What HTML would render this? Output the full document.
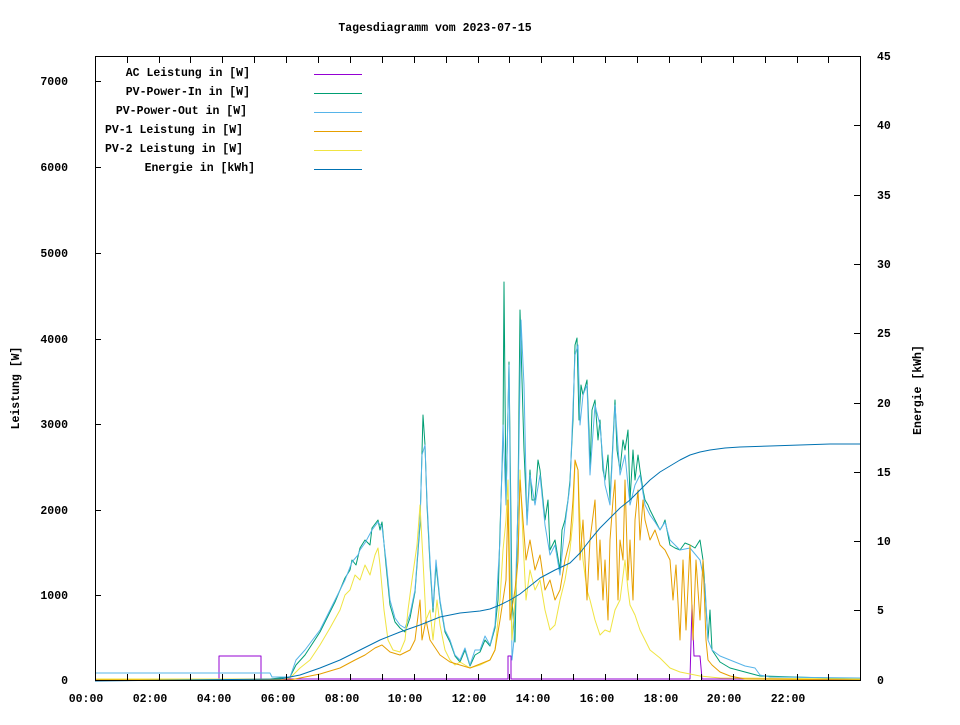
<!DOCTYPE html>
<html><head><meta charset="utf-8"><style>
body{margin:0;background:#fff}
svg text{font-family:"Liberation Mono",monospace;font-size:11.5px;font-weight:bold;fill:#000}
</style></head><body>
<svg width="960" height="720" viewBox="0 0 960 720" xmlns="http://www.w3.org/2000/svg">
<rect width="960" height="720" fill="#fff"/>
<text x="435" y="31" text-anchor="middle">Tagesdiagramm vom 2023-07-15</text>
<g fill="none" stroke-width="1" stroke-linejoin="round">
<path stroke="#9400d3" d="M95,679 L219,679 L219,656 L261,656 L261,679 L508,679 L508,656 L511,656 L511,679 L690,679 L692,605 L694,656 L700,656 L702,679 L860,679"/>
<path stroke="#009e73" d="M95,679 L270,679 L290,677 L296,665 L305,655 L320,632 L335,602 L345,578 L350,570 L352,560 L356,565 L360,548 L365,540 L370,545 L372,528 L378,520 L380,530 L382,522 L386,565 L390,605 L395,622 L400,628 L405,632 L410,618 L415,592 L420,525 L423,415 L425,445 L427,505 L430,565 L433,612 L436,565 L440,602 L445,632 L450,642 L455,656 L460,662 L465,650 L470,666 L475,655 L480,652 L485,640 L490,646 L495,628 L498,600 L500,530 L503,440 L504,282 L506,500 L508,410 L509,362 L511,520 L512,600 L515,642 L518,500 L520,310 L522,380 L524,450 L527,520 L530,470 L532,500 L535,500 L538,460 L540,470 L545,520 L548,500 L550,550 L555,540 L560,570 L562,530 L565,520 L568,500 L570,480 L573,420 L575,345 L577,338 L579,420 L581,385 L583,395 L587,380 L589,430 L590,470 L592,410 L595,400 L598,440 L600,420 L603,470 L605,480 L608,455 L610,500 L613,440 L615,400 L617,450 L620,470 L623,440 L625,450 L628,430 L630,500 L633,450 L635,480 L638,455 L640,470 L643,490 L645,500 L648,505 L650,510 L655,520 L660,530 L663,525 L665,520 L670,545 L675,548 L680,550 L685,543 L690,545 L695,548 L700,540 L703,560 L705,590 L708,640 L710,610 L712,650 L720,662 L730,668 L745,672 L760,676 L860,679"/>
<path stroke="#56b4e9" d="M95,673 L270,673 L272,677 L290,677 L296,660 L305,650 L320,630 L335,600 L345,580 L352,562 L358,555 L360,550 L365,543 L372,530 L378,522 L382,527 L386,560 L390,600 L395,618 L400,625 L405,628 L410,614 L415,590 L420,520 L422,455 L425,445 L427,500 L430,560 L433,608 L436,560 L440,600 L445,630 L450,640 L455,655 L460,660 L465,648 L470,665 L475,650 L480,650 L485,636 L490,645 L495,625 L500,540 L503,425 L506,505 L509,365 L511,560 L512,660 L514,640 L518,505 L521,320 L524,385 L527,525 L530,475 L535,505 L540,475 L545,525 L550,555 L555,545 L560,575 L565,525 L570,485 L575,355 L578,345 L580,425 L583,395 L587,385 L590,475 L595,405 L600,425 L605,485 L610,505 L615,405 L620,475 L625,455 L630,505 L635,485 L640,475 L645,505 L650,515 L655,522 L660,530 L665,522 L670,540 L675,545 L680,550 L690,548 L700,560 L705,585 L708,640 L712,650 L720,656 L730,660 L745,666 L755,668 L760,675 L770,677 L860,678"/>
<path stroke="#f0e442" d="M95,679 L280,679 L290,678 L300,668 L310,660 L320,645 L330,628 L340,610 L345,595 L350,590 L355,575 L360,580 L365,565 L370,575 L375,555 L378,548 L380,565 L384,610 L388,640 L393,650 L400,652 L405,640 L408,610 L412,580 L417,545 L420,505 L423,560 L426,620 L430,610 L433,640 L437,600 L440,625 L445,650 L450,660 L455,665 L460,662 L470,668 L480,665 L490,660 L495,650 L500,600 L503,550 L506,520 L508,480 L510,580 L512,640 L515,600 L518,560 L520,470 L523,540 L526,600 L530,570 L535,590 L540,580 L545,610 L550,630 L555,625 L560,600 L565,580 L570,550 L573,520 L575,462 L578,470 L580,520 L583,560 L587,590 L590,600 L595,620 L600,635 L605,630 L610,632 L615,610 L620,600 L625,560 L628,590 L630,605 L635,615 L640,630 L645,640 L650,650 L660,658 L670,668 L680,672 L690,674 L700,676 L720,678 L860,679"/>
<path stroke="#e69f00" d="M95,680 L290,680 L300,678 L320,674 L340,668 L355,660 L365,655 L375,648 L382,645 L390,652 L400,655 L410,650 L415,640 L420,600 L422,640 L426,620 L430,640 L440,655 L450,662 L460,665 L470,668 L480,664 L490,660 L495,650 L500,620 L503,600 L506,580 L508,500 L510,620 L515,590 L518,560 L520,480 L523,520 L526,560 L530,540 L535,570 L540,555 L545,590 L550,580 L555,600 L560,590 L565,560 L570,540 L573,500 L575,460 L578,470 L580,560 L583,520 L587,600 L590,540 L595,500 L598,580 L600,540 L603,600 L605,560 L608,620 L610,540 L613,500 L615,480 L618,600 L620,540 L623,560 L625,480 L628,580 L630,540 L633,600 L635,520 L638,490 L640,540 L643,500 L645,520 L650,540 L655,530 L660,545 L665,550 L670,560 L673,600 L676,565 L680,640 L683,560 L686,630 L690,545 L693,640 L696,560 L700,620 L703,560 L706,640 L708,660 L712,665 L720,672 L730,676 L745,679 L860,680"/>
<path stroke="#0072b2" d="M95,681 L280,679 L290,677 L300,675 L320,668 L340,660 L360,650 L380,640 L400,632 L420,625 L440,617 L460,613 L480,611 L490,609 L500,605 L510,600 L520,594 L530,586 L540,578 L555,570 L570,563 L580,553 L590,540 L600,528 L610,518 L620,508 L630,500 L640,490 L650,480 L660,472 L670,466 L680,460 L690,455 L700,452 L710,450 L725,448 L740,447 L770,446 L800,445 L830,444 L860,444"/>
</g>
<rect x="95.5" y="56.5" width="765" height="624" fill="none" stroke="#000" stroke-width="1"/>
<path stroke="#000" stroke-width="1" fill="none" d="M127.5 680V674M159.5 680V674M190.5 680V674M222.5 680V674M254.5 680V674M286.5 680V674M318.5 680V674M350.5 680V674M382.5 680V674M414.5 680V674M446.5 680V674M478.5 680V674M509.5 680V674M541.5 680V674M573.5 680V674M605.5 680V674M637.5 680V674M669.5 680V674M701.5 680V674M733.5 680V674M765.5 680V674M797.5 680V674M828.5 680V674M127.5 57V63M159.5 57V63M190.5 57V63M222.5 57V63M254.5 57V63M286.5 57V63M318.5 57V63M350.5 57V63M382.5 57V63M414.5 57V63M446.5 57V63M478.5 57V63M509.5 57V63M541.5 57V63M573.5 57V63M605.5 57V63M637.5 57V63M669.5 57V63M701.5 57V63M733.5 57V63M765.5 57V63M797.5 57V63M828.5 57V63M95 595.5H101M95 510.5H101M95 424.5H101M95 339.5H101M95 253.5H101M95 167.5H101M95 81.5H101M860 610.5H854M860 541.5H854M860 472.5H854M860 403.5H854M860 333.5H854M860 264.5H854M860 195.5H854M860 125.5H854"/>
<g text-anchor="end">
<text x="68" y="684">0</text><text x="68" y="599">1000</text><text x="68" y="514">2000</text><text x="68" y="428">3000</text><text x="68" y="343">4000</text><text x="68" y="257">5000</text><text x="68" y="171">6000</text><text x="68" y="85">7000</text>
</g>
<g text-anchor="start">
<text x="877" y="684">0</text><text x="877" y="614">5</text><text x="877" y="545">10</text><text x="877" y="476">15</text><text x="877" y="407">20</text><text x="877" y="337">25</text><text x="877" y="268">30</text><text x="877" y="199">35</text><text x="877" y="129">40</text><text x="877" y="60">45</text>
</g>
<g text-anchor="middle">
<text x="86" y="702">00:00</text><text x="150" y="702">02:00</text><text x="214" y="702">04:00</text><text x="278" y="702">06:00</text><text x="342" y="702">08:00</text><text x="405" y="702">10:00</text><text x="469" y="702">12:00</text><text x="533" y="702">14:00</text><text x="597" y="702">16:00</text><text x="661" y="702">18:00</text><text x="724" y="702">20:00</text><text x="788" y="702">22:00</text>
</g>
<text transform="translate(19,388) rotate(-90)" text-anchor="middle">Leistung [W]</text>
<text transform="translate(921,390) rotate(-90)" text-anchor="middle">Energie [kWh]</text>
<g text-anchor="end">
<text x="250" y="76">AC Leistung in [W]</text>
<text x="250" y="95">PV-Power-In in [W]</text>
<text x="247" y="114">PV-Power-Out in [W]</text>
<text x="243" y="133">PV-1 Leistung in [W]</text>
<text x="243" y="152">PV-2 Leistung in [W]</text>
<text x="255" y="171">Energie in [kWh]</text>
</g>
<g stroke-width="1">
<line x1="314" x2="362" y1="74.5" y2="74.5" stroke="#9400d3"/>
<line x1="314" x2="362" y1="93.5" y2="93.5" stroke="#009e73"/>
<line x1="314" x2="362" y1="112.5" y2="112.5" stroke="#56b4e9"/>
<line x1="314" x2="362" y1="131.5" y2="131.5" stroke="#e69f00"/>
<line x1="314" x2="362" y1="150.5" y2="150.5" stroke="#f0e442"/>
<line x1="314" x2="362" y1="169.5" y2="169.5" stroke="#0072b2"/>
</g>
</svg>
</body></html>
